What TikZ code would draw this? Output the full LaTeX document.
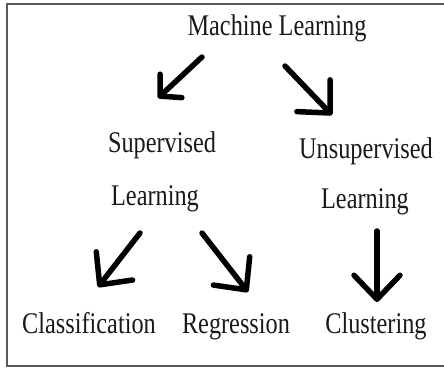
\documentclass[tikz,border=0pt]{standalone}
\usepackage{fontspec}
\setmainfont{Liberation Serif}[FakeStretch=0.81]
\usetikzlibrary{arrows.meta}

\tikzset{
  lbl/.style={anchor=base, inner sep=0pt, text=black!90, font=\fontsize{30}{33}\selectfont},
  arr/.style={line width=5.5pt, line cap=round, line join=round,
    -{Straight Barb[length=24pt,width=46pt,line cap=round,line join=round]}},
  smallarr/.style={arr, -{Straight Barb[length=15pt,width=32pt,line cap=round,line join=round]}},
}

\begin{document}
\begin{tikzpicture}[x=1pt,y=-1pt]
  \useasboundingbox (0,0) rectangle (444,368);
  % frame, cut off on the right
  \draw[line width=2pt, black!65] (444,4) -- (7,4) -- (7,366) -- (444,366);

  \node[lbl] (ml) at (277,35) {Machine Learning};

  \node[lbl] (sup)   at (162,152) {Supervised};
  \node[lbl] (supl)  at (155,205) {Learning};
  \node[lbl] (unsup) at (366,158) {Unsupervised};
  \node[lbl] (unsupl) at (365,208) {Learning};

  \node[lbl] (cls) at (89,333)  {Classification};
  \node[lbl] (reg) at (236,333) {Regression};
  \node[lbl] (clu) at (376,333) {Clustering};

  % arrow ends
  \coordinate (a1) at (202,57);  \coordinate (b1) at (158,98);
  \coordinate (a2) at (285,66);  \coordinate (b2) at (332,115);
  \coordinate (a3) at (140,233); \coordinate (b3) at (98,287);
  \coordinate (a4) at (202,233); \coordinate (b4) at (248,292);
  \coordinate (a5) at (377,231); \coordinate (b5) at (377,302);

  \draw[smallarr] (a1) -- (b1);
  \draw[arr] (a2) -- (b2);
  \draw[arr] (a3) -- (b3);
  \draw[arr] (a4) -- (b4);
  \draw[arr] (a5) -- (b5);
\end{tikzpicture}
\end{document}
